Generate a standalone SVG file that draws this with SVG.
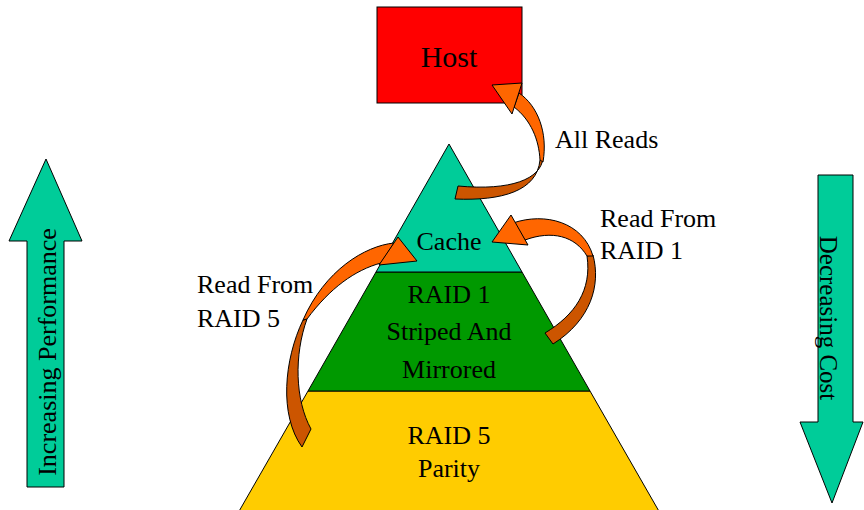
<svg xmlns="http://www.w3.org/2000/svg" width="864" height="510" viewBox="0 0 864 510">
<style>
text{font-family:"Liberation Serif","Times New Roman",serif;font-size:26px;fill:#000}
.c{text-anchor:middle}
.ln{stroke:#000;stroke-width:1;stroke-linejoin:miter}
.fr{fill:#FF6600}
.bk{fill:#CC5500}
.tl{fill:#00CC99}
</style>
<rect width="864" height="510" fill="#fff"/>
<g id="perf">
<polygon class="tl ln" points="46,159 82,241 64,241 64,487 27,487 27,241 9,241"/>
<text transform="translate(56,352) rotate(-90)" class="c">Increasing Performance</text>
</g>
<g id="cost">
<polygon class="tl ln" points="818,175 853,175 853,422 863,422 832,503 800,422 818,422"/>
<text transform="translate(820,318) rotate(90)" class="c" style="font-size:25px">Decreasing Cost</text>
</g>
<g id="raid5">
<polygon class="ln" fill="#FFCC00" points="308,391 590,391 664,520 234,520"/>
<text x="449" y="444" class="c">RAID 5</text>
<text x="449" y="477" class="c">Parity</text>
</g>
<g id="raid1">
<polygon class="ln" fill="#009900" points="376,272 522,272 590,391 308,391"/>
<text x="449" y="303" class="c">RAID 1</text>
<text x="449" y="340" class="c">Striped And</text>
<text x="449" y="378" class="c">Mirrored</text>
</g>
<g id="cache">
<polygon class="tl ln" points="449,144 522,272 376,272"/>
<text x="449" y="250" class="c">Cache</text>
</g>
<g id="host">
<rect x="377" y="7" width="145" height="96" fill="#FF0000" class="ln"/>
<text x="449" y="67" class="c" style="font-size:30px">Host</text>
</g>
<g id="connectors">
<g id="all-reads">
<path class="bk ln" d="M 543,158 C 541,179 511,191 458,186 L 455,199 C 502,201 537,191 540,160 Z"/>
<path class="fr ln" d="M 519,93 C 538,106 548,133 543,162 L 540,160 C 539,140 531,120 514,107 Z"/>
<polygon class="fr ln" points="492,85 522,83 512,114"/>
<text x="555" y="148">All Reads</text>
</g>
<g id="read-raid1">
<path class="bk ln" d="M 593,255 C 601,285 591,320 553,344 L 545,333 C 575,315 592,290 587,256 Z"/>
<path class="fr ln" d="M 513,223 C 545,212 583,222 593,256 L 587,256 C 575,236 552,230 525,240 Z"/>
<polygon class="fr ln" points="492,242 511,215 528,245"/>
<text x="600" y="227">Read From</text>
<text x="600" y="259">RAID 1</text>
</g>
<g id="read-raid5">
<path class="bk ln" d="M 303,320 C 284,360 279,415 302,447 L 311,429 C 295,400 294,355 307,319 Z"/>
<path class="fr ln" d="M 394,243 C 365,246 325,270 303,320 L 307,319 C 330,288 355,270 381,263 Z"/>
<polygon class="fr ln" points="417,261 398,237 379,265"/>
<text x="197" y="293">Read From</text>
<text x="197" y="327">RAID 5</text>
</g>
</g>
</svg>
